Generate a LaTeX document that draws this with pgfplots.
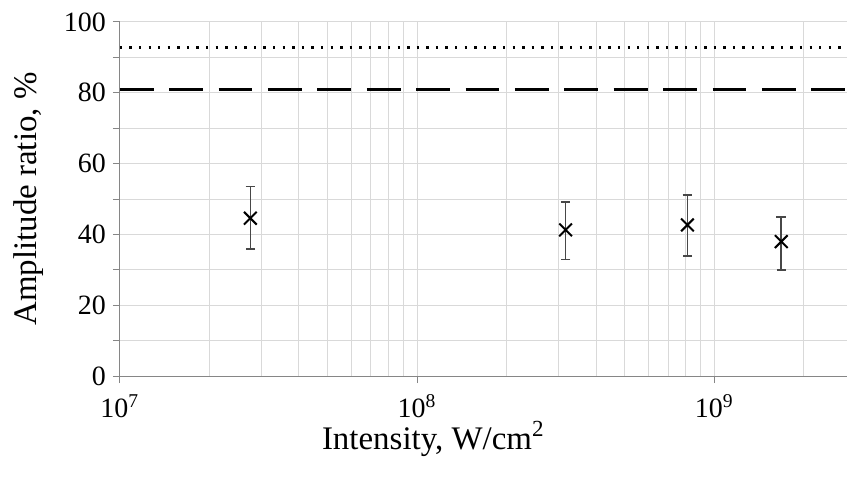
\documentclass[border=0pt]{standalone}
\usepackage{fontspec}
\setmainfont{Liberation Serif}
\usepackage{pgfplots}
\pgfplotsset{compat=1.18}
\definecolor{gridgray}{HTML}{D9D9D9}
\definecolor{axisgray}{HTML}{868686}

\begin{document}
\begin{tikzpicture}
\begin{axis}[
  xmode=log,
  scale only axis,
  width=364.5pt, height=177.5pt,
  xmin=1e7, xmax=2.8e9,
  ymin=0, ymax=100,
  axis x line*=bottom, axis y line*=left,
  axis line style={axisgray, line width=0.6pt},
  xtick={1e7,1e8,1e9},
  xticklabels={10\textsuperscript{7},10\textsuperscript{8},10\textsuperscript{9}},
  minor xtick={2e7,3e7,4e7,5e7,6e7,7e7,8e7,9e7,2e8,3e8,4e8,5e8,6e8,7e8,8e8,9e8,2e9},
  ytick={0,20,...,100},
  minor ytick={10,30,...,90},
  xmajorgrids, xminorgrids, ymajorgrids, yminorgrids,
  major grid style={gridgray, line width=0.5pt},
  minor grid style={gridgray, line width=0.5pt},
  tick align=outside,
  major tick length=3.5pt, minor tick length=3.5pt,
  tick style={axisgray, line width=0.5pt},
  minor x tick style={draw=none},
  ticklabel style={font=\fontsize{14}{16}\selectfont},
  /pgf/number format/assume math mode=true,
  xticklabel style={yshift=-2pt},
  xlabel={Intensity, W/cm\textsuperscript{2}},
  ylabel={Amplitude ratio, \%},
  label style={font=\fontsize{16.5}{19}\selectfont},
  xlabel style={at={([yshift=-31.5pt]axis description cs:0.431,0)}, anchor=center},
  ylabel style={at={([xshift=-45.5pt]axis description cs:0,0.5)}, anchor=center},
  clip=false,
]
% reference levels
\addplot[black, line width=1.2pt, dash pattern=on 1.2pt off 3.6pt] coordinates {(1e7,92.8) (2.8e9,92.8)};
\addplot[black, line width=1.8pt, dash pattern=on 17pt off 7.75pt] coordinates {(1e7,80.9) (2.8e9,80.9)};
% measured ratios
\addplot[
  only marks, mark=x, mark size=4.5pt,
  mark options={black, line width=1pt},
  error bars/.cd,
    y dir=both, y explicit,
    error bar style={black!72, line width=0.8pt},
    error mark options={rotate=90, mark size=2.4pt, black!72, line width=0.8pt},
] coordinates {
  (2.75e7,44.6) += (0,9.0) -= (0,8.7)
  (3.16e8,41.3) += (0,7.9) -= (0,8.4)
  (8.12e8,42.7) += (0,8.4) -= (0,8.7)
  (1.68e9,38.0) += (0,7.0) -= (0,8.0)
};
\end{axis}
\useasboundingbox ([shift={(-60pt,-50.5pt)}]current axis.south west) rectangle ([shift={(0pt,11pt)}]current axis.north east);
\end{tikzpicture}
\end{document}
